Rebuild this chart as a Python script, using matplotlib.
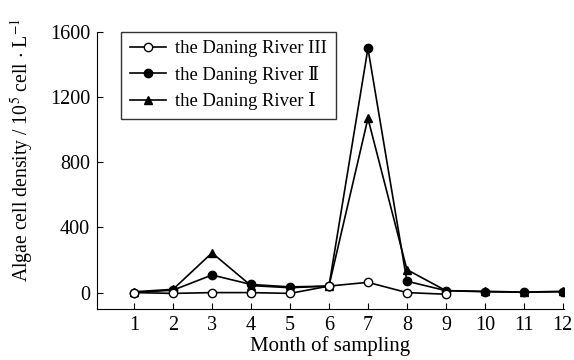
import matplotlib
matplotlib.use("Agg")
import matplotlib.pyplot as plt

plt.rcParams['font.family'] = ['Liberation Serif', 'DejaVu Serif', 'Noto Sans CJK SC']
plt.rcParams['mathtext.fontset'] = 'stix'

months = list(range(1, 13))
river3_months = list(range(1, 10))
river3 = [0, -5, 0, 0, -5, 40, 63, 0, -10]
river2 = [0, 15, 108, 50, 35, 40, 1500, 70, 12, 5, 2, 5]
river1 = [5, 20, 244, 43, 30, 40, 1070, 141, 12, 8, 3, 8]

fig = plt.figure(figsize=(5.74, 3.6), dpi=100)
ax = fig.add_axes([0.169, 0.142, 0.8136, 0.769])

ax.plot(river3_months, river3, color='black', lw=1.2, marker='o', ms=6,
        mfc='white', mec='black', label='the Daning River III', zorder=3)
ax.plot(months, river2, color='black', lw=1.2, marker='o', ms=6,
        label='the Daning River \u2161', zorder=2)
ax.plot(months, river1, color='black', lw=1.2, marker='^', ms=6,
        label='the Daning River \u2160', zorder=2)

ax.set_xlim(0.05, 12.03)
ax.set_ylim(-100, 1600)
ax.set_xticks(months)
ax.set_yticks([0, 400, 800, 1200, 1600])
ax.tick_params(direction='in', labelsize=14.5, length=4, pad=5)
ax.spines['top'].set_visible(False)
ax.spines['right'].set_visible(False)

ax.set_xlabel('Month of sampling', fontsize=15, labelpad=1)
ax.set_ylabel('Algae cell density / 10$^5$ cell $\\cdot$ L$^{-1}$', fontsize=14.2)
ax.yaxis.set_label_coords(-0.13, 0.574)

leg = ax.legend(loc='upper left', bbox_to_anchor=(0.052, 1.0), fontsize=13.4,
                frameon=True, fancybox=False, edgecolor='black',
                handlelength=1.95, handletextpad=0.5, borderpad=0.45,
                labelspacing=0.45, borderaxespad=0)
leg.get_frame().set_linewidth(1.0)

fig.savefig('out.png', dpi=100)
